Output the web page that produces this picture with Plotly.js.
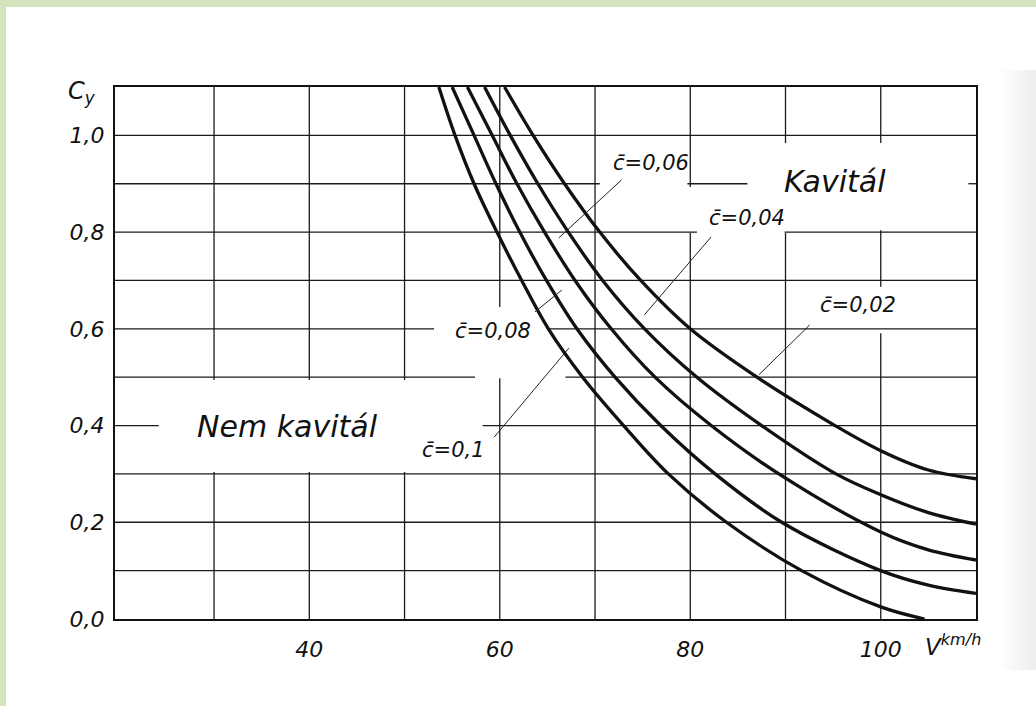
<!DOCTYPE html>
<html><head><meta charset="utf-8">
<script src="https://cdn.plot.ly/plotly-3.0.1.min.js"></script>
<style>
html,body{margin:0;padding:0;background:#d6e3bf;width:1036px;height:706px;overflow:hidden;}
#chart{position:absolute;left:6px;top:7px;width:1030px;height:699px;background:#fff;}
#smudge{position:absolute;left:998px;top:70px;width:38px;height:600px;background:linear-gradient(to right,rgba(0,0,0,0),rgba(0,0,0,0.07));pointer-events:none;}
</style></head><body>
<div id="chart"></div><div id="smudge"></div>
<script>
// Curves: Cy vs V (km/h) for profile thickness c̄
const labels = ['c\u0304=0,1', 'c\u0304=0,08', 'c\u0304=0,06', 'c\u0304=0,04', 'c\u0304=0,02'];
const vA = [53.6, 55.3, 57.3, 59.7, 62.3, 65.1, 68.7, 73.0, 77.7, 83.8, 91.7, 100.0, 104.6];
const cyA = [1.1, 1.0, 0.9, 0.8, 0.7, 0.6, 0.5, 0.4, 0.3, 0.2, 0.1, 0.025, 0.0];
const vB = [55.0, 57.3, 59.6, 62.1, 64.9, 68.1, 72.1, 76.9, 82.6, 89.6, 100.0, 105.0, 110.0];
const cyB = [1.1, 1.0, 0.9, 0.8, 0.7, 0.6, 0.5, 0.4, 0.3, 0.2, 0.1, 0.07, 0.053];
const vC = [56.6, 59.2, 61.8, 64.7, 67.9, 71.7, 76.3, 82.2, 89.3, 100.0, 105.0, 110.0];
const cyC = [1.1, 1.0, 0.9, 0.8, 0.7, 0.6, 0.5, 0.4, 0.3, 0.18, 0.143, 0.122];
const vD = [58.4, 61.1, 64.0, 67.2, 70.8, 75.2, 80.7, 87.5, 95.3, 100.0, 105.0, 110.0];
const cyD = [1.1, 1.0, 0.9, 0.8, 0.7, 0.6, 0.5, 0.4, 0.3, 0.257, 0.22, 0.196];
const vE = [60.5, 63.5, 66.8, 70.5, 74.8, 80.0, 87.0, 95.2, 100.0, 105.0, 110.0];
const cyE = [1.1, 1.0, 0.9, 0.8, 0.7, 0.6, 0.5, 0.4, 0.348, 0.308, 0.29];
const xTickVals = [40, 60, 80, 100];
const xTickText = ['40', '60', '80', '100'];
const yTickVals = [0, 0.2, 0.4, 0.6, 0.8, 1.0];
const yTickText = ['0,0', '0,2', '0,4', '0,6', '0,8', '1,0'];

const xMin = 19.6, xMax = 110, yMax = 1.1;
const series = [[vA, cyA], [vB, cyB], [vC, cyC], [vD, cyD], [vE, cyE]];
const traces = series.map((s, i) => ({
  x: s[0], y: s[1], name: labels[i], type: 'scatter', mode: 'lines',
  line: {color: '#111', width: 3.3, shape: 'spline', smoothing: 1.0},
  showlegend: false, hoverinfo: 'skip'
}));

// hand-drawn grid with gaps around the lettering (style)
const hGrid = [
  [0.1, [[xMin, xMax]]], [0.2, [[xMin, xMax]]], [0.3, [[xMin, xMax]]],
  [0.4, [[xMin, 24.2], [58.2, xMax]]],
  [0.5, [[xMin, 57.4], [66.9, xMax]]],
  [0.6, [[xMin, 53.1], [65.2, xMax]]],
  [0.7, [[xMin, xMax]]],
  [0.8, [[xMin, 80.7], [89.9, xMax]]],
  [0.9, [[xMin, 70.5], [79.7, 86.0], [109.2, xMax]]],
  [1.0, [[xMin, xMax]]]
];
const vGrid = [
  [30, [[0, 0.304], [0.494, yMax]]],
  [40, [[0, 0.304], [0.494, yMax]]],
  [50, [[0, 0.304], [0.494, yMax]]],
  [60, [[0, 0.498], [0.645, yMax]]],
  [70, [[0, yMax]]],
  [80, [[0, 0.798], [0.893, yMax]]],
  [90, [[0, 0.798], [0.984, yMax]]],
  [100, [[0, 0.591], [0.687, 0.804], [0.984, yMax]]]
];
const gridLine = {color: '#1a1a1a', width: 1.3};
const shapes = [];
hGrid.forEach(([y, segs]) => segs.forEach(([a, b]) => shapes.push({type: 'line', xref: 'x', yref: 'y', x0: a, x1: b, y0: y, y1: y, line: gridLine, layer: 'below'})));
vGrid.forEach(([x, segs]) => segs.forEach(([a, b]) => shapes.push({type: 'line', xref: 'x', yref: 'y', x0: x, x1: x, y0: a, y1: b, line: gridLine, layer: 'below'})));

// leader lines from labels to curves
const leaders = [
  [59.41, 0.376, 67.25, 0.560],
  [63.69, 0.635, 66.51, 0.680],
  [72.79, 0.908, 66.20, 0.788],
  [82.19, 0.790, 75.19, 0.629],
  [92.54, 0.608, 87.21, 0.505]
];
leaders.forEach(l => shapes.push({type: 'line', xref: 'x', yref: 'y', x0: l[0], y0: l[1], x1: l[2], y1: l[3], line: {color: '#222', width: 1}, layer: 'above'}));

const labelPos = [[55.12, 0.349], [59.30, 0.596], [75.92, 0.943], [85.96, 0.829], [97.66, 0.649]];
const fam = "'DejaVu Sans', sans-serif";
const annotations = labelPos.map((p, i) => ({
  x: p[0], y: p[1], xref: 'x', yref: 'y', xanchor: 'center', yanchor: 'middle', text: labels[i], showarrow: false,
  font: {family: fam, size: 21, color: '#111', style: 'italic'}
}));
annotations.push(
  {x: 37.66, y: 0.399, xref: 'x', yref: 'y', xanchor: 'center', yanchor: 'middle', text: 'Nem kavitál', showarrow: false, font: {family: fam, size: 30, color: '#111', style: 'italic'}},
  {x: 95.15, y: 0.904, xref: 'x', yref: 'y', xanchor: 'center', yanchor: 'middle', text: 'Kavitál', showarrow: false, font: {family: fam, size: 30, color: '#111', style: 'italic'}},
  {x: -0.0383, y: 0.990, xref: 'paper', yref: 'paper', xanchor: 'center', yanchor: 'middle', text: 'C<sub>y</sub>', showarrow: false, font: {family: fam, size: 24, color: '#111', style: 'italic'}},
  {x: 0.9385, y: -0.048, xref: 'paper', yref: 'paper', xanchor: 'left', yanchor: 'middle', text: 'V<sup>km/h</sup>', showarrow: false, font: {family: fam, size: 23, color: '#111', style: 'italic'}}
);

const tickFont = {family: fam, size: 22, color: '#111', style: 'italic'};
const layout = {
  width: 1030, height: 699,
  margin: {l: 109, r: 60, t: 80, b: 87},
  paper_bgcolor: '#ffffff', plot_bgcolor: '#ffffff',
  xaxis: {range: [xMin, xMax], showgrid: false, zeroline: false, showline: true, mirror: true,
    linecolor: '#111', linewidth: 2, tickmode: 'array', tickvals: xTickVals, ticktext: xTickText,
    ticks: '', tickfont: tickFont, ticklabelstandoff: 10, fixedrange: true},
  yaxis: {range: [0, yMax], showgrid: false, zeroline: false, showline: true, mirror: true,
    linecolor: '#111', linewidth: 2, tickmode: 'array', tickvals: yTickVals, ticktext: yTickText,
    ticks: '', tickfont: tickFont, ticklabelstandoff: 4, fixedrange: true},
  shapes: shapes,
  annotations: annotations,
  showlegend: false
};
Plotly.newPlot('chart', traces, layout, {displayModeBar: false, staticPlot: true});
</script></body></html>
